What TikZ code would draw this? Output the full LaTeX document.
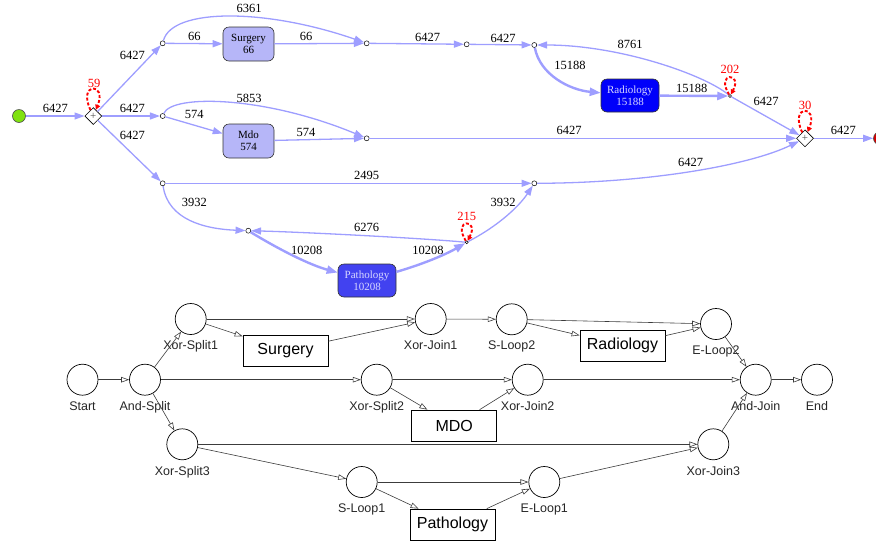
\documentclass[tikz,border=0pt]{standalone}
\usepackage{fontspec}
\setmainfont{Liberation Serif}
\setsansfont{Liberation Sans}
\usetikzlibrary{arrows.meta,shapes.geometric,positioning}

\definecolor{flowc}{RGB}{158,158,255}
\definecolor{actlight}{RGB}{182,182,248}
\definecolor{actmid}{RGB}{66,66,240}
\definecolor{actdark}{RGB}{0,0,250}
\definecolor{acttext}{RGB}{215,215,255}
\definecolor{startc}{RGB}{128,226,16}
\definecolor{endc}{RGB}{212,0,0}
\definecolor{netc}{RGB}{60,60,60}

\begin{document}
\begin{tikzpicture}[->, semithick, x=1pt, y=-1pt, every node/.style={inner sep=0pt}]
    \tikzset{flow/.style={draw=flowc, line width=1.3pt, -{Triangle[length=10pt,width=7pt]}},
      heavy/.style={flow, line width=2.4pt, -{Triangle[length=11pt,width=8pt]}},
      rework/.style={draw=red, line width=1.9pt, dash pattern=on 3pt off 2pt, -{Triangle[length=5pt,width=5pt]}},
      hub/.style={draw=black, circle, fill=white, minimum size=5pt, line width=0.5pt},
      gate/.style={draw=black, diamond, fill=white, minimum size=17pt, line width=0.6pt, font=\fontsize{11}{11}\selectfont, text=black!70},
      act/.style={draw=black!80, rounded corners=6pt, minimum width=51pt, minimum height=34pt, align=center, font=\fontsize{11}{12}\selectfont, line width=0.6pt},
      num/.style={font=\fontsize{12.5}{13}\selectfont},
      rep/.style={num, text=red},
      place/.style={draw=black, circle, minimum size=31pt, line width=0.7pt},
      trans/.style={draw=black, minimum width=85pt, minimum height=31pt, font=\sffamily\fontsize{16}{16}\selectfont, line width=0.7pt},
      tag/.style={font=\sffamily\fontsize{12.5}{13}\selectfont, text=black!85, yshift=-5.5pt},
      arc/.style={draw=netc, line width=0.6pt, -{Triangle[open,length=8pt,width=5.5pt]}}};
    \useasboundingbox (0,0) rectangle (876,542);

    % mined model
    \node[circle, draw=black!70, fill=startc, minimum size=13pt] (start) at (19,116) {};
    \node[gate] (split) at (93.3,116) {+};
    \node[hub] (n1) at (162.7,43.3) {};
    \node[hub] (n2) at (162.7,116) {};
    \node[hub] (n3) at (162.7,183.3) {};
    \node[act, fill=actlight] (surg) at (248.5,44) {Surgery\\66};
    \node[act, fill=actlight] (mdo) at (248.5,141) {Mdo\\574};
    \node[hub] (n4) at (366.7,43.3) {};
    \node[hub] (n5) at (466.7,44.3) {};
    \node[hub] (n6) at (534.3,45) {};
    \node[act, fill=actdark, text=acttext, minimum width=58pt, minimum height=33pt] (rad) at (630,95.5) {Radiology\\15188};
    \node[hub, minimum size=3pt] (n7) at (730,96) {};
    \node[gate] (join) at (805,138.3) {+};
    \node[circle, draw=black!70, fill=endc, minimum size=13pt] (end) at (880,138.3) {};
    \node[hub] (n8) at (366.7,138.3) {};
    \node[hub] (n9) at (534.3,183.3) {};
    \node[hub] (n10) at (248.3,230.7) {};
    \node[act, fill=actmid, text=acttext, minimum width=58pt, minimum height=33pt] (patho) at (367,280.5) {Pathology\\10208};
    \node[hub, minimum size=3pt] (n11) at (466.7,242.3) {};
    {
      \path
        (start) edge[flow] (split)
        (split) edge[flow] (n1)
        (split) edge[flow] (n2)
        (split) edge[flow] (n3)
        (n1) edge[flow] (surg)
        (surg) edge[flow] (n4)
        (n4) edge[flow] (n5)
        (n5) edge[flow] (n6)
        (rad) edge[heavy] (n7)
        (n7) edge[flow] (join)
        (join) edge[flow] (end)
        (n2) edge[flow] (mdo)
        (mdo) edge[flow] (n8)
        (n8) edge[flow] (join)
        (n3) edge[flow] (n9)
        ;
    }
    \draw[flow] (n1) .. controls (172,8) and (265,8) .. (n4);
    \draw[flow] (n2) .. controls (172,94) and (265,96) .. (n8);
    \draw[heavy] (n6) .. controls (540,75) and (570,90) .. (rad);
    \draw[flow] (n7) .. controls (705,75) and (620,45) .. (n6);
    \draw[flow] (n3) .. controls (168,220) and (205,229) .. (n10);
    \draw[heavy] (n10) .. controls (280,250) and (310,265) .. (patho);
    \draw[heavy] (patho) .. controls (430,262) and (450,252) .. (n11);
    \draw[flow] (n11) .. controls (420,238) and (300,232) .. (n10);
    \draw[flow] (n11) .. controls (500,225) and (520,205) .. (n9);
    \draw[flow] (n9) .. controls (650,183) and (750,165) .. (join);
    % self loops
    \draw[rework] (split) .. controls +(-16,-34) and +(14,-34) .. (split);
    \draw[rework] (join) .. controls +(-16,-34) and +(14,-34) .. (join);
    \draw[rework] (n7) .. controls +(-15,-24) and +(13,-24) .. (n7);
    \draw[rework] (n11) .. controls +(-15,-24) and +(13,-24) .. (n11);

    % frequencies
    \node[num] (f1) at (55.3,108.3) {6427};
    \node[num] (f2) at (132.3,55) {6427};
    \node[num] (f3) at (132.3,108.3) {6427};
    \node[num] (f4) at (132.3,135) {6427};
    \node[num] (f5) at (194.3,36.7) {66};
    \node[num] (f6) at (249,8.5) {6361};
    \node[num] (f7) at (306,36.7) {66};
    \node[num] (f8) at (427.7,37.3) {6427};
    \node[num] (f9) at (503,38.3) {6427};
    \node[num] (f10) at (570,65) {15188};
    \node[num] (f11) at (630,44) {8761};
    \node[num] (f12) at (691.7,88.3) {15188};
    \node[num] (f13) at (766,101.7) {6427};
    \node[num] (f14) at (843.3,130.7) {6427};
    \node[num] (f15) at (194.3,114.3) {574};
    \node[num] (f16) at (249,98.3) {5853};
    \node[num] (f17) at (306,132.7) {574};
    \node[num] (f18) at (569,130.7) {6427};
    \node[num] (f19) at (366.7,175.7) {2495};
    \node[num] (f20) at (690.7,162.3) {6427};
    \node[num] (f21) at (194.3,202.7) {3932};
    \node[num] (f22) at (366.7,227.3) {6276};
    \node[num] (f23) at (306.7,250) {10208};
    \node[num] (f24) at (428,250) {10208};
    \node[num] (f25) at (503,202.7) {3932};
    \node[rep] (r1) at (94,83) {59};
    \node[rep] (r2) at (730,69.3) {202};
    \node[rep] (r3) at (805,105) {30};
    \node[rep] (r4) at (466.7,216) {215};

    % process net
    \node[place, label={[tag]below:Start}] (pStart) at (82.5,379.7) {};
    \node[place, label={[tag]below:And-Split}] (pAndS) at (145,379.7) {};
    \node[place, label={[tag]below:Xor-Split1}] (pXs1) at (190.7,319) {};
    \node[trans] (tSurg) at (285.5,350.5) {Surgery};
    \node[place, label={[tag]below:Xor-Join1}] (pXj1) at (430.7,319) {};
    \node[place, label={[tag]below:S-Loop2}] (pSl2) at (511.7,319.3) {};
    \node[trans] (tRad) at (622.5,345.5) {Radiology};
    \node[place, label={[tag]below:E-Loop2}] (pEl2) at (716,324) {};
    \node[place, label={[tag]below:And-Join}] (pAndJ) at (755.7,379.7) {};
    \node[place, label={[tag]below:End}] (pEnd) at (817,379.7) {};
    \node[place, label={[tag]below:Xor-Split2}] (pXs2) at (376.7,379.7) {};
    \node[trans] (tMdo) at (454.2,425.5) {MDO};
    \node[place, label={[tag]below:Xor-Join2}] (pXj2) at (527.7,379.7) {};
    \node[place, label={[tag]below:Xor-Split3}] (pXs3) at (182.3,444.3) {};
    \node[place, label={[tag]below:Xor-Join3}] (pXj3) at (713.3,444.3) {};
    \node[place, label={[tag]below:S-Loop1}] (pSl1) at (361.7,482) {};
    \node[trans] (tPath) at (452.5,524.5) {Pathology};
    \node[place, label={[tag]below:E-Loop1}] (pEl1) at (544.3,482) {};
    {
      \path
        (pStart) edge[arc] (pAndS)
        (pAndS) edge[arc] (pXs1)
        (pAndS) edge[arc] (pXs2)
        (pAndS) edge[arc] (pXs3)
        (pXs1) edge[arc] (tSurg)
        (pXs1) edge[arc] (pXj1)
        (tSurg) edge[arc] (pXj1)
        (pXj1) edge[arc] (pSl2)
        (pSl2) edge[arc] (tRad)
        (pSl2) edge[arc] (pEl2)
        (tRad) edge[arc] (pEl2)
        (pEl2) edge[arc] (pAndJ)
        (pXs2) edge[arc] (tMdo)
        (pXs2) edge[arc] (pXj2)
        (tMdo) edge[arc] (pXj2)
        (pXj2) edge[arc] (pAndJ)
        (pXs3) edge[arc] (pXj3)
        (pXs3) edge[arc] (pSl1)
        (pSl1) edge[arc] (tPath)
        (pSl1) edge[arc] (pEl1)
        (tPath) edge[arc] (pEl1)
        (pEl1) edge[arc] (pXj3)
        (pXj3) edge[arc] (pAndJ)
        (pAndJ) edge[arc] (pEnd)
        ;
    }
\end{tikzpicture}
\end{document}
